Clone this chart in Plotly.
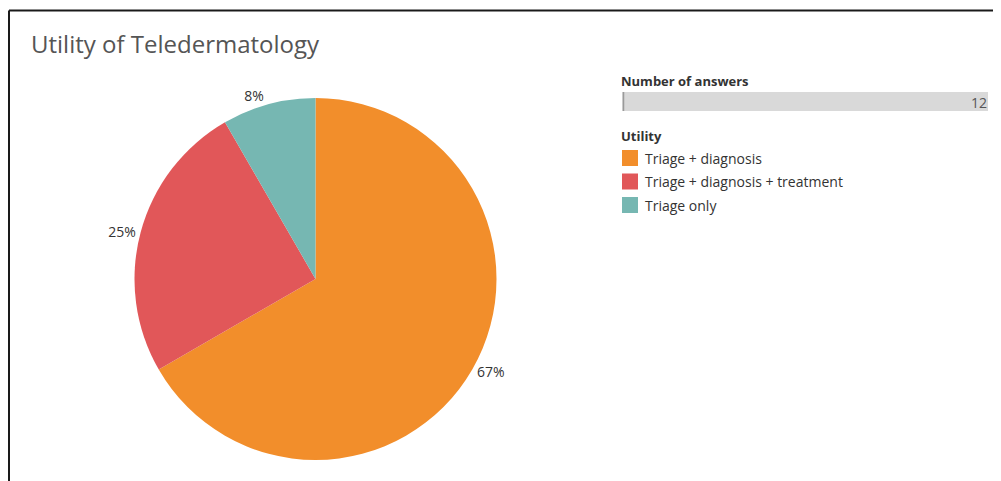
import plotly.graph_objects as go

categories = ["Triage + diagnosis", "Triage + diagnosis + treatment", "Triage only"]
answers = [8, 3, 1]
colors = ["#F28E2B", "#E15759", "#76B7B2"]
title_text = "Utility of Teledermatology"
size_legend_title = "Number of answers"
color_legend_title = "Utility"

# page body has an 8px margin: size the figure so it fills the window
OFF = 8
W, H = 1001 - OFF, 481 - OFF
FONT = "Open Sans"

def px(x):
    return (x - OFF) / W

def py(y):
    return 1 - (y - OFF) / H

fig = go.Figure()
fig.add_trace(go.Pie(
    labels=categories,
    values=answers,
    marker=dict(colors=colors, line=dict(width=0)),
    sort=False,
    direction="clockwise",
    rotation=0,
    textposition="outside",
    texttemplate="%{percent:.0%}",
    textfont=dict(family=FONT, size=14, color="#333333"),
    outsidetextfont=dict(family=FONT, size=14, color="#333333"),
    domain=dict(x=[px(134), px(497)], y=[py(460), py(98)]),
    hoverinfo="label+value+percent",
    showlegend=False,
))

total = sum(answers)

shapes = [
    # frame lines
    dict(type="line", xref="paper", yref="paper", x0=px(9), x1=1, y0=py(10.5), y1=py(10.5),
         line=dict(color="#1a1a1a", width=2)),
    dict(type="line", xref="paper", yref="paper", x0=px(9), x1=px(9), y0=py(10.5), y1=0,
         line=dict(color="#1a1a1a", width=2)),
    # size legend bar
    dict(type="rect", xref="paper", yref="paper", x0=px(622), x1=px(988), y0=py(111), y1=py(92),
         fillcolor="#d9d9d9", line=dict(width=0), layer="below"),
    dict(type="line", xref="paper", yref="paper", x0=px(623.5), x1=px(623.5), y0=py(111), y1=py(92),
         line=dict(color="#9a9a9a", width=1.5)),
]

annotations = [
    dict(text=title_text, xref="paper", yref="paper", x=px(29), y=py(44), xanchor="left",
         yanchor="middle", showarrow=False, font=dict(family=FONT, size=24, color="#555555")),
    dict(text="<b>" + size_legend_title + "</b>", xref="paper", yref="paper", x=px(619), y=py(81),
         xanchor="left", yanchor="middle", showarrow=False,
         font=dict(family=FONT, size=13, color="#333333")),
    dict(text=str(total), xref="paper", yref="paper", x=px(989), y=py(102),
         xanchor="right", yanchor="middle", showarrow=False,
         font=dict(family=FONT, size=14, color="#555555")),
    dict(text="<b>" + color_legend_title + "</b>", xref="paper", yref="paper", x=px(619), y=py(136),
         xanchor="left", yanchor="middle", showarrow=False,
         font=dict(family=FONT, size=13, color="#333333")),
]

# colour legend rows
row0, row_step = 158, 23.5
for i, (cat, col) in enumerate(zip(categories, colors)):
    yc = row0 + i * row_step
    shapes.append(dict(type="rect", xref="paper", yref="paper",
                       x0=px(622), x1=px(638), y0=py(yc + 8), y1=py(yc - 8),
                       fillcolor=col, line=dict(width=0)))
    annotations.append(dict(text=cat, xref="paper", yref="paper", x=px(643), y=py(yc),
                            xanchor="left", yanchor="middle", showarrow=False,
                            font=dict(family=FONT, size=14, color="#333333")))

fig.update_layout(
    width=W, height=H,
    margin=dict(l=0, r=0, t=0, b=0),
    paper_bgcolor="white",
    plot_bgcolor="white",
    shapes=shapes,
    annotations=annotations,
    showlegend=False,
)

fig.write_html("out.html")
